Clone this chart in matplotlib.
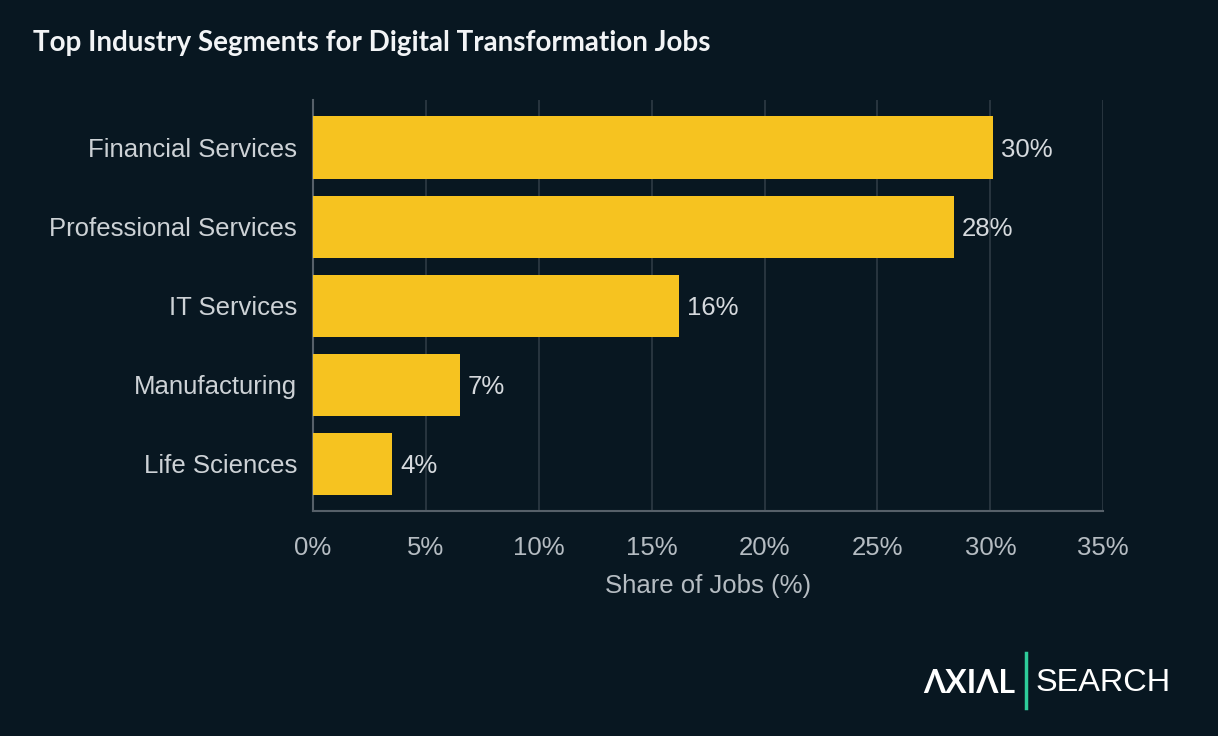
import matplotlib.pyplot as plt
from matplotlib.ticker import FuncFormatter

# Données
segments = ['Financial Services', 'Professional Services', 'IT Services',
            'Manufacturing', 'Life Sciences']
share = [30.1, 28.4, 16.2, 6.5, 3.5]
share_labels = ['30%', '28%', '16%', '7%', '4%']

bg = '#081721'
bar_color = '#F6C320'

fig = plt.figure(figsize=(12.18, 7.36), dpi=100, facecolor=bg)
ax = fig.add_axes([0.257, 0.3057, 0.6488, 0.5583], facecolor=bg)

y = range(len(segments))
ax.barh(y, share, height=0.785, color=bar_color, zorder=3)
ax.set_ylim(4.6, -0.6)
ax.set_xlim(0, 35)
ax.set_xticks(range(0, 36, 5))
ax.xaxis.set_major_formatter(FuncFormatter(lambda v, p: f'{v:.0f}%'))
ax.set_yticks(list(y))
ax.set_yticklabels(segments)

for i, (v, lab) in enumerate(zip(share, share_labels)):
    ax.text(v + 0.35, i, lab, va='center_baseline', ha='left', fontsize=18.5,
            color='#d5d9dd', family='Liberation Sans')

ax.grid(axis='x', color='#2e3b45', linewidth=1.2, zorder=0)
for s in ['top', 'right']:
    ax.spines[s].set_visible(False)
ax.spines['left'].set_color('#566069')
ax.spines['bottom'].set_color('#566069')
ax.spines['left'].set_linewidth(1.5)
ax.spines['bottom'].set_linewidth(1.5)
ax.tick_params(axis='both', length=0, labelsize=18.5, colors='#c9ced3')
ax.tick_params(axis='x', pad=18, labelcolor='#b5bcc2')
ax.tick_params(axis='y', pad=11.5, labelcolor='#cdd2d6')
for t in ax.get_xticklabels() + ax.get_yticklabels():
    t.set_family('Liberation Sans')

ax.set_xlabel('Share of Jobs (%)', fontsize=18.5, color='#b5bcc2',
              family='Liberation Sans', labelpad=10)

fig.text(0.027, 0.941, 'Top Industry Segments for Digital Transformation Jobs',
         fontsize=20, fontweight='bold', color='#f2f4f6', family='Lato',
         va='center', ha='left')

# Logo
fig.text(0.8333, 0.072, 'ΛXIΛL', fontsize=23, fontweight='bold', color='white',
         family=['Lato', 'DejaVu Sans'], va='center', ha='right')
fig.add_artist(plt.Line2D([0.8424, 0.8424], [0.038, 0.113], color='#2ecc9a',
                          linewidth=2.5, transform=fig.transFigure))
fig.text(0.8506, 0.072, 'SEARCH', fontsize=23.4, color='white',
         family='Liberation Sans', va='center', ha='left')

plt.savefig('out.png', dpi=100, facecolor=bg)
